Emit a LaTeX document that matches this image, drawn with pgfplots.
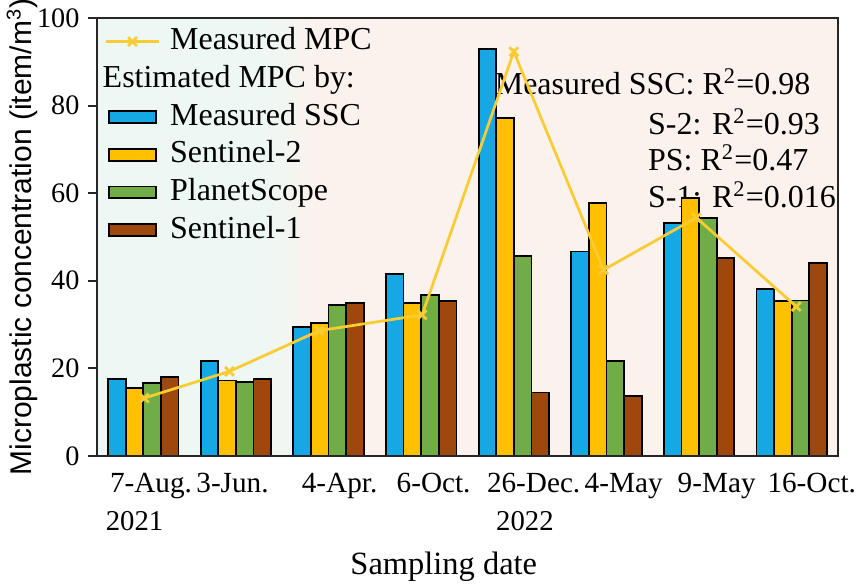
\documentclass[border=0pt]{standalone}
\usepackage{fontspec}
\setmainfont{Liberation Serif}
\newfontfamily\labelsans{Liberation Sans}
\usepackage{pgfplots}
\pgfplotsset{compat=1.18}
\definecolor{cBlue}{RGB}{22,168,228}
\definecolor{cYel}{RGB}{255,192,0}
\definecolor{cGreen}{RGB}{112,173,71}
\definecolor{cBrown}{RGB}{158,72,14}
\definecolor{cLine}{RGB}{248,204,50}
\definecolor{bgMint}{RGB}{237,247,243}
\definecolor{bgPink}{RGB}{252,242,237}
\begin{document}
\begin{tikzpicture}
\begin{axis}[
  at={(0,0)}, anchor=south west,
  scale only axis, width=296.8pt, height=175.4pt,
  xmin=-0.5, xmax=7.5, ymin=0, ymax=100,
  clip=false,
  axis on top,
  axis line style={line width=0.8pt, black!85},
  every tick/.style={line width=0.8pt, black!85},
  tick align=outside, tick pos=left,
  major tick length=3.5pt, minor tick length=3.5pt,
  ytick={0,20,40,60,80,100},
  xtick={0.083,0.963,2.119,3.134,4.214,5.186,6.19,7.216},
  xticklabels={7-Aug.,3-Jun.,4-Apr.,6-Oct.,26-Dec.,4-May,9-May,16-Oct.},
  x tick style={draw=none},
  minor xtick={-0.5,0.5,1.5,2.5,3.5,4.5,5.5,6.5,7.5},
  /pgf/number format/assume math mode=true,
  tick label style={font=\fontsize{11.3}{13}\selectfont},
  x tick label style={font=\fontsize{11.7}{13}\selectfont},
  xlabel={Sampling date},
  xlabel style={at={(axis description cs:0.468,0)}, anchor=center, yshift=-44.5pt, font=\fontsize{13}{15}\selectfont},
  ylabel={Microplastic concentration (item/m\textsuperscript{3})},
  ylabel style={at={(axis description cs:-0.101,0.5)}, anchor=center, font=\labelsans\fontsize{12}{14}\selectfont},
  legend cell align=left,
  legend style={at={(0,1)}, anchor=north west, xshift=2pt, yshift=-1pt, draw=none, fill=none,
    inner sep=1pt, row sep=0.6pt,
    font=\fontsize{12.8}{14}\selectfont,
    nodes={inner sep=1pt, text height=9.5pt, text depth=3pt},
    /tikz/every odd column/.append style={column sep=3pt}},
]
\addlegendimage{legend image code/.code={\draw[cLine, line width=1.1pt, mark=x, mark size=2.5pt, mark repeat=2, mark phase=2] plot coordinates {(0pt,0pt) (10.5pt,0pt) (21pt,0pt)};}}
\addlegendentry{Measured MPC}
\addlegendimage{empty legend}
\addlegendentry{\hspace*{-27pt}Estimated MPC by:}
\addlegendimage{legend image code/.code={\draw[fill=cBlue,draw=black,line width=0.7pt] (1pt,-2.4pt) rectangle (20pt,2.4pt);}}
\addlegendentry{Measured SSC}
\addlegendimage{legend image code/.code={\draw[fill=cYel,draw=black,line width=0.7pt] (1pt,-2.4pt) rectangle (20pt,2.4pt);}}
\addlegendentry{Sentinel-2}
\addlegendimage{legend image code/.code={\draw[fill=cGreen,draw=black,line width=0.7pt] (1pt,-2.4pt) rectangle (20pt,2.4pt);}}
\addlegendentry{PlanetScope}
\addlegendimage{legend image code/.code={\draw[fill=cBrown,draw=black,line width=0.7pt] (1pt,-2.4pt) rectangle (20pt,2.4pt);}}
\addlegendentry{Sentinel-1}

\fill[bgMint] (axis cs:-0.5,0) rectangle (axis cs:1.3,100);
\shade[left color=bgMint, right color=bgPink] (axis cs:1.3,0) rectangle (axis cs:1.9,100);
\fill[bgPink] (axis cs:1.9,0) rectangle (axis cs:7.5,100);

\node[anchor=west, inner sep=0pt, font=\fontsize{12.8}{14}\selectfont] at (axis cs:3.79,85.5) {Measured SSC: R\textsuperscript{2}=0.98};
\node[anchor=west, inner sep=0pt, font=\fontsize{12.8}{14}\selectfont] at (axis cs:5.445,76.3) {S-2: R\textsuperscript{2}=0.93};
\node[anchor=west, inner sep=0pt, font=\fontsize{12.8}{14}\selectfont] at (axis cs:5.445,68.1) {PS: R\textsuperscript{2}=0.47};
\node[anchor=west, inner sep=0pt, font=\fontsize{12.8}{14}\selectfont] at (axis cs:5.445,59.7) {S-1: R\textsuperscript{2}=0.016};

\addplot[ybar, bar width=0.19, bar shift=-0.285, fill=cBlue, draw=black, line width=0.7pt, forget plot]
  coordinates {(0,17.5) (1,21.6) (2,29.4) (3,41.6) (4,93.0) (5,46.7) (6,53.2) (7,38.1)};
\addplot[ybar, bar width=0.19, bar shift=-0.095, fill=cYel, draw=black, line width=0.7pt, forget plot]
  coordinates {(0,15.5) (1,17.2) (2,30.3) (3,34.9) (4,77.2) (5,57.8) (6,58.9) (7,35.3)};
\addplot[ybar, bar width=0.19, bar shift=0.095, fill=cGreen, draw=black, line width=0.7pt, forget plot]
  coordinates {(0,16.6) (1,16.8) (2,34.5) (3,36.8) (4,45.7) (5,21.6) (6,54.3) (7,35.5)};
\addplot[ybar, bar width=0.19, bar shift=0.285, fill=cBrown, draw=black, line width=0.7pt, forget plot]
  coordinates {(0,18.1) (1,17.5) (2,34.9) (3,35.3) (4,14.5) (5,13.7) (6,45.2) (7,44.0)};
\addplot[sharp plot, cLine, line width=1.1pt, mark=x, mark size=2.5pt, forget plot]
  coordinates {(0.01,13.2) (0.93,19.3) (1.9,28.6) (3.01,32.2) (4.0,92.3) (4.97,42.5) (5.97,54.4) (7.05,34.1)};

\node[font=\fontsize{11.5}{13}\selectfont] at ([yshift=-26pt]axis cs:-0.095,0) {2021};
\node[font=\fontsize{11.5}{13}\selectfont] at ([yshift=-26pt]axis cs:4.12,0) {2022};
\end{axis}
\pgfresetboundingbox
\path[use as bounding box] (-38.85pt,-50.9pt) rectangle (305.2pt,182.6pt);
\end{tikzpicture}
\end{document}
